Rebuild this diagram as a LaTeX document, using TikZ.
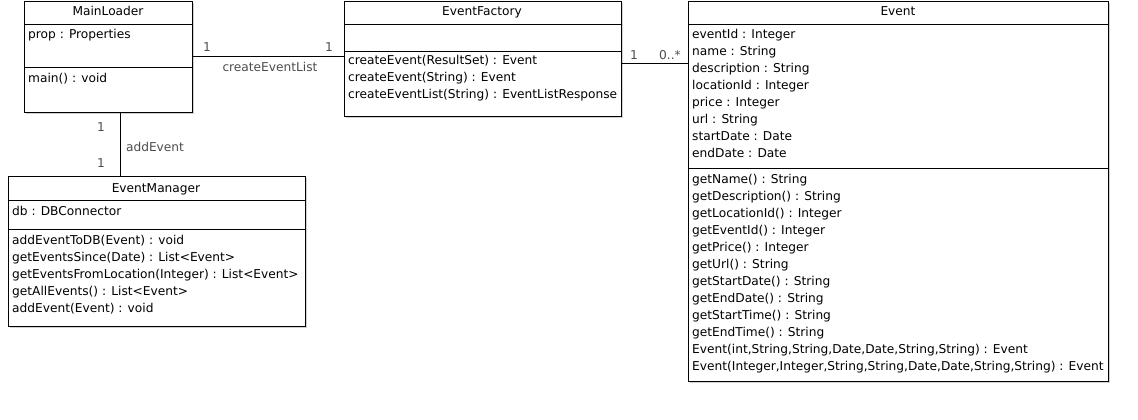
\documentclass[tikz,border=0pt]{standalone}
\usepackage{fontspec}
\setmainfont{DejaVu Sans}
\usetikzlibrary{calc,shadows}
\begin{document}
\begin{tikzpicture}[x=1pt,y=-1pt,
  classbox/.style={draw, line width=0.9pt, fill=white, anchor=north west, inner sep=0pt,
    drop shadow={shadow xshift=2pt,shadow yshift=-2pt,fill=black!30,opacity=0.6}},
  sepline/.style={line width=0.9pt},
  member/.style={anchor=mid west, inner sep=0pt, font=\fontsize{12.2}{14}\selectfont},
  title/.style={anchor=mid, inner sep=0pt, font=\fontsize{12.2}{14}\selectfont},
  role/.style={anchor=mid, inner sep=0pt, text=black!70, font=\fontsize{12.2}{14}\selectfont},
  assoc/.style={line width=0.9pt}]
\useasboundingbox (0,0) rectangle (1138,420);

% ---------- MainLoader ----------
\node[classbox, minimum width=168pt, minimum height=111pt] (ml) at (24,1) {};
\draw[sepline] ($(ml.north west)+(0,23)$) -- ($(ml.north east)+(0,23)$);
\draw[sepline] ($(ml.north west)+(0,66)$) -- ($(ml.north east)+(0,66)$);
\node[title] (ml-t) at (108,12.5) {MainLoader};
\node[member] (ml-a1) at (28,36) {prop : Properties};
\node[member] (ml-o1) at (28,80) {main() : void};

% ---------- EventFactory ----------
\node[classbox, minimum width=277pt, minimum height=115pt] (ef) at (344,1) {};
\draw[sepline] ($(ef.north west)+(0,23)$) -- ($(ef.north east)+(0,23)$);
\draw[sepline] ($(ef.north west)+(0,50)$) -- ($(ef.north east)+(0,50)$);
\node[title] (ef-t) at (482,12.5) {EventFactory};
\foreach \t [count=\i from 0] in {%
  createEvent(ResultSet) : Event,
  createEvent(String) : Event,
  createEventList(String) : EventListResponse}
  \node[member] (ef-o\i) at (348,62+17*\i) {\t};

% ---------- Event ----------
\node[classbox, minimum width=420pt, minimum height=380pt] (ev) at (688,1) {};
\draw[sepline] ($(ev.north west)+(0,23)$) -- ($(ev.north east)+(0,23)$);
\draw[sepline] ($(ev.north west)+(0,167)$) -- ($(ev.north east)+(0,167)$);
\node[title] (ev-t) at (898,12.5) {Event};
\foreach \t [count=\i from 0] in {%
  eventId : Integer, name : String, description : String, locationId : Integer,
  price : Integer, url : String, startDate : Date, endDate : Date}
  \node[member] (ev-a\i) at (692,36+17*\i) {\t};
\foreach \t [count=\i from 0] in {%
  getName() : String, getDescription() : String, getLocationId() : Integer,
  getEventId() : Integer, getPrice() : Integer, getUrl() : String,
  getStartDate() : String, getEndDate() : String, getStartTime() : String,
  getEndTime() : String,
  {Event(int,String,String,Date,Date,String,String) : Event},
  {Event(Integer,Integer,String,String,Date,Date,String,String) : Event}}
  \node[member] (ev-o\i) at (692,180.5+17*\i) {\t};

% ---------- EventManager ----------
\node[classbox, minimum width=297pt, minimum height=150pt] (em) at (8,176) {};
\draw[sepline] ($(em.north west)+(0,24)$) -- ($(em.north east)+(0,24)$);
\draw[sepline] ($(em.north west)+(0,53)$) -- ($(em.north east)+(0,53)$);
\node[title] (em-t) at (156,189.5) {EventManager};
\node[member] (em-a1) at (12,213) {db : DBConnector};
\foreach \t [count=\i from 0] in {%
  addEventToDB(Event) : void, getEventsSince(Date) : List<Event>,
  getEventsFromLocation(Integer) : List<Event>, getAllEvents() : List<Event>,
  addEvent(Event) : void}
  \node[member] (em-o\i) at (12,241.5+17*\i) {\t};

% ---------- associations ----------
\draw[assoc] (ml.east) -- (ml.east -| ef.west);
\node[role] (r1) at (207,49) {1};
\node[role] (r2) at (329,49) {1};
\node[role] (r3) at (270,69) {createEventList};

\coordinate (fe) at ($(ef.north east)+(0,62)$);
\draw[assoc] (fe) -- (fe -| ev.west);
\node[role] (r4) at (634,57) {1};
\node[role] (r5) at (670,57) {0..*};

\coordinate (mv) at ($(ml.south west)+(96,0)$);
\draw[assoc] (mv) -- (mv |- em.north);
\node[role] (r6) at (101,129) {1};
\node[role] (r7) at (155,149) {addEvent};
\node[role] (r8) at (101,165) {1};
\end{tikzpicture}
\end{document}
